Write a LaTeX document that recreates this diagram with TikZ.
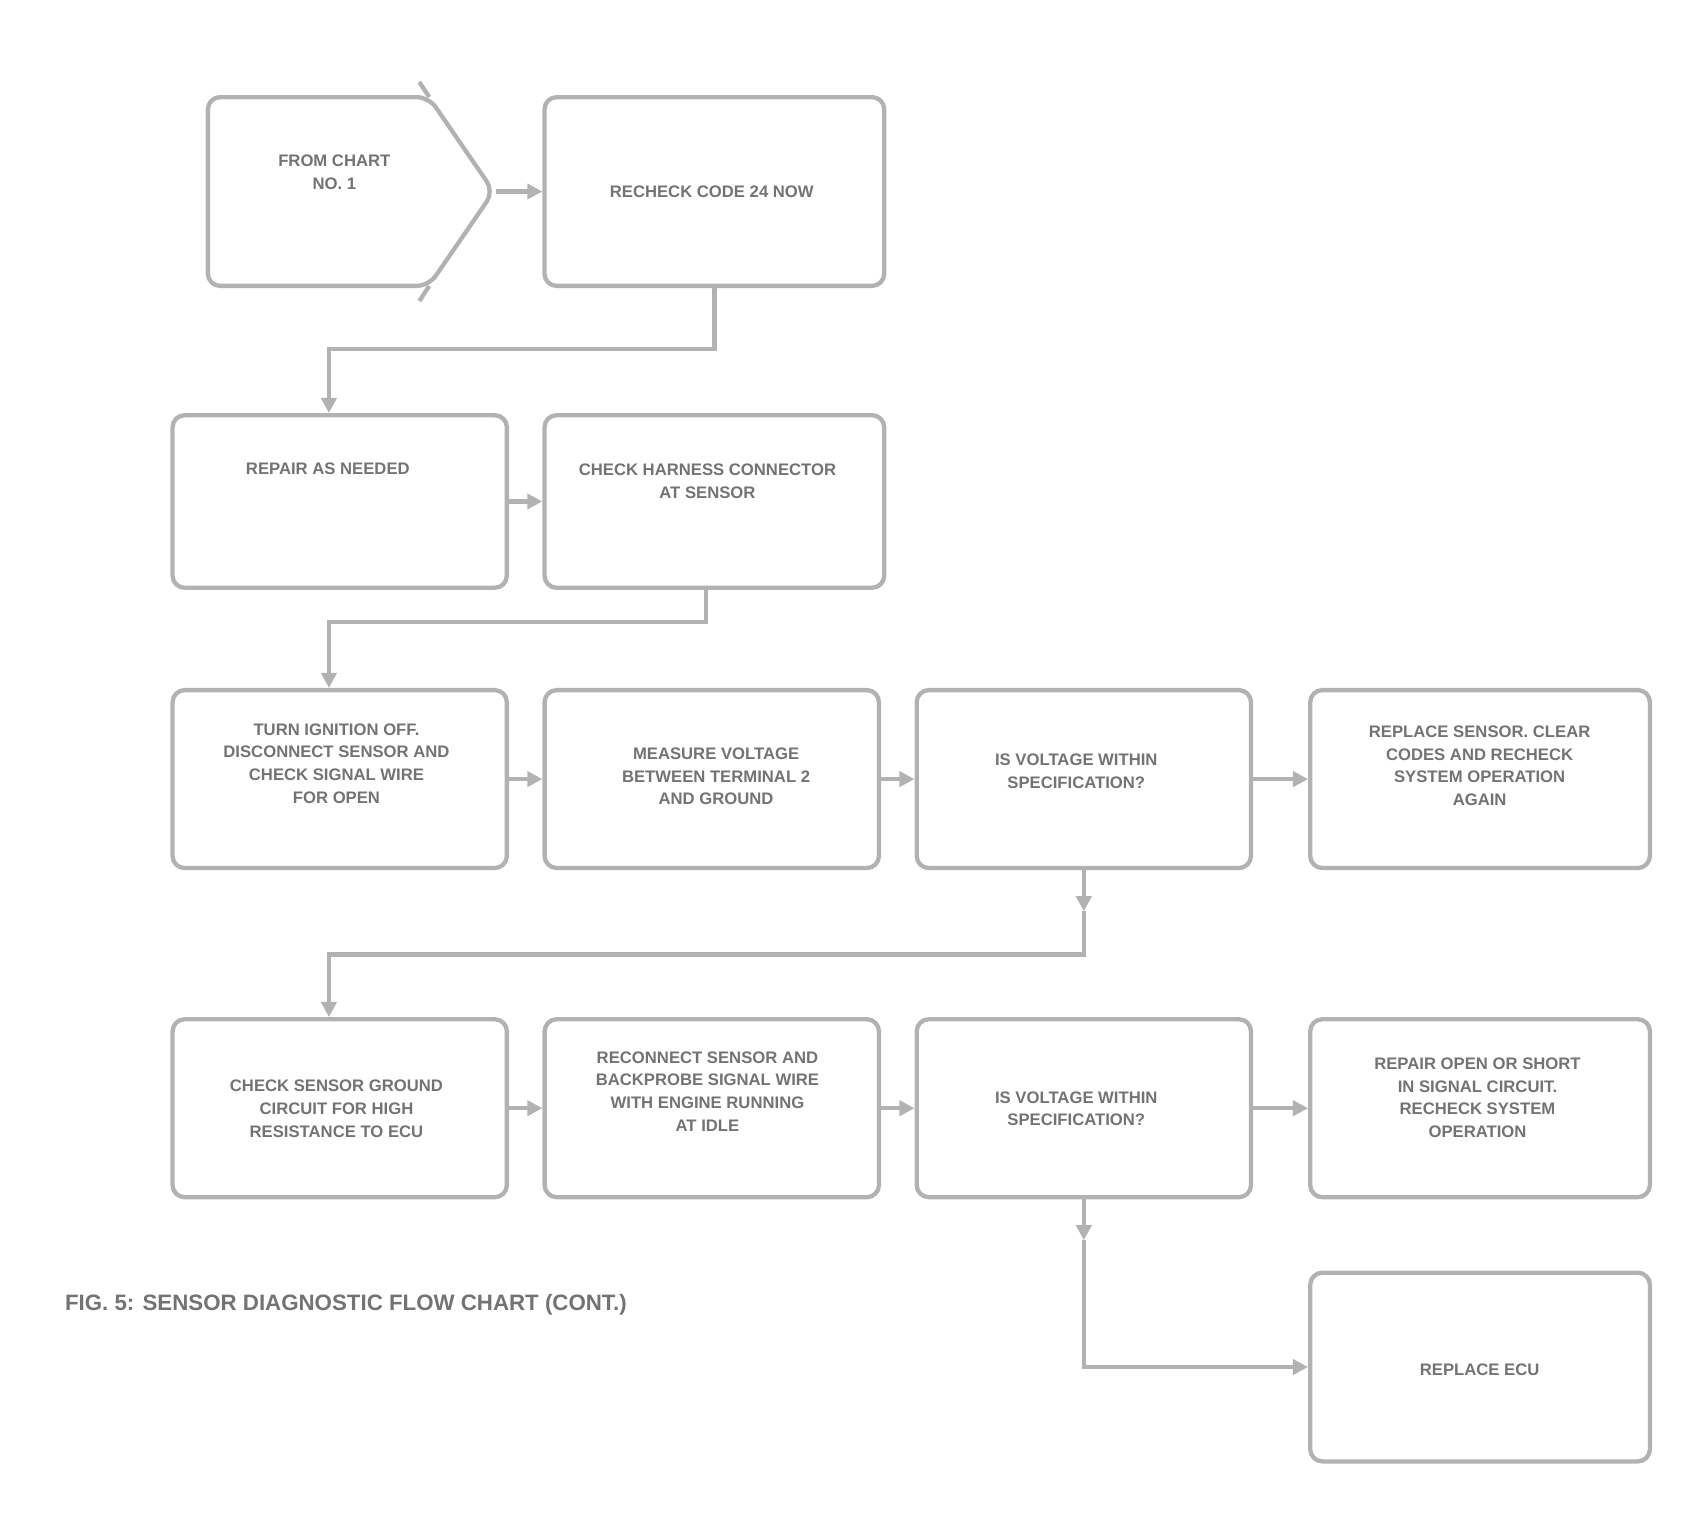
\documentclass[tikz,border=0pt]{standalone}
\usepackage{fontspec}
\setmainfont{Liberation Sans}
\usetikzlibrary{shapes.symbols,arrows.meta}

\begin{document}
\begin{tikzpicture}
\tikzstyle{box}=[rectangle,draw=black!30,line width=1mm,rounded corners=8pt,minimum width=7.75cm,minimum height=4.125cm]
\tikzstyle{txt}=[align=center,inner sep=0pt,text=black!55,font=\fontsize{11}{15}\selectfont\bfseries]
\tikzstyle{edge}=[draw=black!30,line width=1mm,-{Triangle[length=3.5mm,width=3.5mm]}]
\useasboundingbox (0,0) rectangle (39.2,-35.6);
% first row
\node [box,signal,signal to=east,signal pointer angle=111,minimum width=6.625cm,minimum height=4.375cm] (from) at (7.38,-4.44) {};
\draw [draw=black!30,line width=1mm] (9.95,-2.25) -- (9.72,-1.9);
\draw [draw=black!30,line width=1mm] (9.95,-6.63) -- (9.72,-6.98);
\node [box,minimum width=7.875cm,minimum height=4.375cm] (recheck) at (16.56,-4.44) {};
% second row
\node [box,minimum height=4cm] (repair) at (7.875,-11.625) {};
\node [box,minimum width=7.875cm,minimum height=4cm] (conn) at (16.56,-11.625) {};
% third row
\node [box] (signal) at (7.875,-18.06) {};
\node [box] (volt) at (16.5,-18.06) {};
\node [box] (spec) at (25.125,-18.06) {};
\node [box,minimum width=7.875cm] (sensor) at (34.31,-18.06) {};
% fourth row
\node [box] (ground) at (7.875,-25.69) {};
\node [box] (probe) at (16.5,-25.69) {};
\node [box] (spectwo) at (25.125,-25.69) {};
\node [box,minimum width=7.875cm] (open) at (34.31,-25.69) {};
% last box
\node [box,minimum width=7.875cm,minimum height=4.375cm] (ecu) at (34.31,-31.69) {};
% texts
\node [txt] (tfrom) at (7.75,-4.0) {FROM CHART\\NO. 1};
\node [txt] (trecheck) at (16.5,-4.45) {RECHECK CODE 24 NOW};
\node [txt] (trepair) at (7.6,-10.875) {REPAIR AS NEEDED};
\node [txt] (tconn) at (16.4,-11.15) {CHECK HARNESS CONNECTOR\\AT SENSOR};
\node [txt] (tsignal) at (7.8,-17.7) {TURN IGNITION OFF.\\DISCONNECT SENSOR AND\\CHECK SIGNAL WIRE\\FOR OPEN};
\node [txt] (tvolt) at (16.6,-18.0) {MEASURE VOLTAGE\\BETWEEN TERMINAL 2\\AND GROUND};
\node [txt] (tspec) at (24.95,-17.875) {IS VOLTAGE WITHIN\\SPECIFICATION?};
\node [txt] (tsensor) at (34.3,-17.75) {REPLACE SENSOR. CLEAR\\CODES AND RECHECK\\SYSTEM OPERATION\\AGAIN};
\node [txt] (tground) at (7.8,-25.7) {CHECK SENSOR GROUND\\CIRCUIT FOR HIGH\\RESISTANCE TO ECU};
\node [txt] (tprobe) at (16.4,-25.3) {RECONNECT SENSOR AND\\BACKPROBE SIGNAL WIRE\\WITH ENGINE RUNNING\\AT IDLE};
\node [txt] (tspectwo) at (24.95,-25.7) {IS VOLTAGE WITHIN\\SPECIFICATION?};
\node [txt] (topen) at (34.25,-25.45) {REPAIR OPEN OR SHORT\\IN SIGNAL CIRCUIT.\\RECHECK SYSTEM\\OPERATION};
\node [txt] (tecu) at (34.3,-31.75) {REPLACE ECU};
\node [txt,anchor=west,font=\fontsize{14.7}{17}\selectfont\bfseries] (caption) at (1.5,-30.25) {FIG. 5: SENSOR DIAGNOSTIC FLOW CHART (CONT.)};
% connectors
\coordinate (gdown) at (25.125,-21.125);
\coordinate (kdown) at (25.125,-28.75);
\draw [edge] (from.east) -- (recheck.west);
\draw [edge] (recheck.south) -- ++(0,-1.42) -| ([xshift=-0.25cm]repair.north);
\draw [edge] (repair.east) -- (conn.west);
\draw [edge] ([xshift=-0.2cm]conn.south) -- ++(0,-0.75) -| ([xshift=-0.25cm]signal.north);
\draw [edge] (signal.east) -- (volt.west);
\draw [edge] (volt.east) -- (spec.west);
\draw [edge] (spec.east) -- (sensor.west);
\draw [edge] (spec.south) -- (gdown);
\draw [edge] (gdown) -- ++(0,-1) -| ([xshift=-0.25cm]ground.north);
\draw [edge] (ground.east) -- (probe.west);
\draw [edge] (probe.east) -- (spectwo.west);
\draw [edge] (spectwo.east) -- (open.west);
\draw [edge] (spectwo.south) -- (kdown);
\draw [edge] (kdown) |- (ecu.west);
\end{tikzpicture}
\end{document}
